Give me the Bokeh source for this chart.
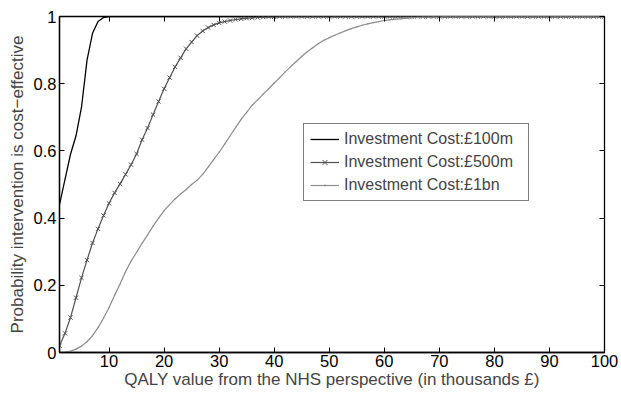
from bokeh.plotting import figure
from bokeh.models import Range1d, FixedTicker, LinearAxis, Legend, LegendItem, ColumnDataSource
from bokeh.embed import file_html
from bokeh.resources import INLINE

# QALY value (thousands £)
qaly = list(range(1, 101))

# Probability cost-effective, investment cost £100m
p100m = [0.44, 0.515, 0.59, 0.645, 0.73, 0.87, 0.95, 0.985, 0.997, 1.0,
         1.0, 1.0, 1.0, 1.0, 1.0, 1.0, 1.0, 1.0, 1.0, 1.0,
         1.0, 1.0, 1.0, 1.0, 1.0, 1.0, 1.0, 1.0, 1.0, 1.0,
         1.0, 1.0, 1.0, 1.0, 1.0, 1.0, 1.0, 1.0, 1.0, 1.0,
         1.0, 1.0, 1.0, 1.0, 1.0, 1.0, 1.0, 1.0, 1.0, 1.0,
         1.0, 1.0, 1.0, 1.0, 1.0, 1.0, 1.0, 1.0, 1.0, 1.0,
         1.0, 1.0, 1.0, 1.0, 1.0, 1.0, 1.0, 1.0, 1.0, 1.0,
         1.0, 1.0, 1.0, 1.0, 1.0, 1.0, 1.0, 1.0, 1.0, 1.0,
         1.0, 1.0, 1.0, 1.0, 1.0, 1.0, 1.0, 1.0, 1.0, 1.0,
         1.0, 1.0, 1.0, 1.0, 1.0, 1.0, 1.0, 1.0, 1.0, 1.0]

# Investment cost £500m
p500m = [0.02, 0.057, 0.104, 0.163, 0.222, 0.275, 0.326, 0.368, 0.408, 0.444,
         0.475, 0.502, 0.53, 0.559, 0.591, 0.633, 0.668, 0.708, 0.747, 0.785,
         0.818, 0.85, 0.877, 0.904, 0.924, 0.943, 0.957, 0.967, 0.975, 0.981,
         0.985, 0.988, 0.991, 0.993, 0.995, 0.996, 0.997, 0.998, 0.999, 0.999,
         1.0, 1.0, 1.0, 1.0, 1.0, 1.0, 1.0, 1.0, 1.0, 1.0,
         1.0, 1.0, 1.0, 1.0, 1.0, 1.0, 1.0, 1.0, 1.0, 1.0,
         1.0, 1.0, 1.0, 1.0, 1.0, 1.0, 1.0, 1.0, 1.0, 1.0,
         1.0, 1.0, 1.0, 1.0, 1.0, 1.0, 1.0, 1.0, 1.0, 1.0,
         1.0, 1.0, 1.0, 1.0, 1.0, 1.0, 1.0, 1.0, 1.0, 1.0,
         1.0, 1.0, 1.0, 1.0, 1.0, 1.0, 1.0, 1.0, 1.0, 1.0]

# Investment cost £1bn
p1bn = [0.0, 0.001, 0.004, 0.01, 0.019, 0.032, 0.05, 0.074, 0.102, 0.134,
        0.17, 0.204, 0.241, 0.272, 0.298, 0.325, 0.35, 0.376, 0.4, 0.422,
        0.44, 0.457, 0.472, 0.485, 0.5, 0.513, 0.53, 0.552, 0.574, 0.596,
        0.62, 0.645, 0.67, 0.694, 0.715, 0.736, 0.752, 0.769, 0.785, 0.802,
        0.818, 0.835, 0.851, 0.866, 0.881, 0.895, 0.907, 0.919, 0.929, 0.937,
        0.944, 0.951, 0.958, 0.964, 0.969, 0.974, 0.978, 0.982, 0.985, 0.988,
        0.99, 0.992, 0.993, 0.995, 0.996, 0.997, 0.998, 0.998, 0.999, 0.999,
        1.0, 1.0, 1.0, 1.0, 1.0, 1.0, 1.0, 1.0, 1.0, 1.0,
        1.0, 1.0, 1.0, 1.0, 1.0, 1.0, 1.0, 1.0, 1.0, 1.0,
        1.0, 1.0, 1.0, 1.0, 1.0, 1.0, 1.0, 1.0, 1.0, 1.0]

x_ticks = [10, 20, 30, 40, 50, 60, 70, 80, 90, 100]
y_ticks = [0, 0.2, 0.4, 0.6, 0.8, 1]
labels = ["Investment Cost:£100m", "Investment Cost:£500m", "Investment Cost:£1bn"]
colors = ["#000000", "#505050", "#8c8c8c"]

FONT = "Liberation Sans"

src = ColumnDataSource(dict(x=qaly, a=p100m, b=p500m, c=p1bn))

p = figure(width=621, height=393, output_backend="svg", toolbar_location=None,
           x_range=Range1d(1, 100), y_range=Range1d(0, 1),
           min_border_left=59, min_border_right=17, min_border_top=16, min_border_bottom=41)
p.grid.visible = False
p.outline_line_color = "black"
p.outline_line_width = 1.3

r1 = p.line("x", "a", source=src, color=colors[0], line_width=1.3)
r2 = p.line("x", "b", source=src, color=colors[1], line_width=1.2)
r2m = p.scatter("x", "b", source=src, marker="x", size=6, line_color=colors[1], line_width=1)
r3 = p.line("x", "c", source=src, color=colors[2], line_width=1.2)
r3m = p.scatter("x", "c", source=src, marker="dot", size=5, line_color=colors[2], fill_color=colors[2])


def style_axis(ax, show_labels=True):
    ax.major_tick_in = 5
    ax.major_tick_out = 0
    ax.minor_tick_line_color = None
    ax.major_tick_line_color = "black"
    ax.major_tick_line_width = 1
    ax.axis_line_color = "black"
    ax.axis_line_width = 1.3
    ax.major_label_text_font = FONT
    if show_labels:
        ax.major_label_text_color = "black"
        ax.major_label_text_font_size = "16.5px"
    else:
        ax.major_label_text_color = None
        ax.major_label_text_font_size = "1px"
        ax.major_label_standoff = 0


xa = p.xaxis[0]
xa.ticker = FixedTicker(ticks=x_ticks)
style_axis(xa)
xa.major_label_standoff = 2
xa.axis_label = "QALY value from the NHS perspective (in thousands £)"
xa.axis_label_text_font = FONT
xa.axis_label_text_font_size = "17px"
xa.axis_label_text_font_style = "normal"
xa.axis_label_standoff = 0

ya = p.yaxis[0]
ya.ticker = FixedTicker(ticks=y_ticks)
style_axis(ya)
ya.major_label_standoff = 3
ya.major_label_overrides = {0: "0", 1: "1"}
ya.axis_label = "Probability intervention is cost\u2212effective"
ya.axis_label_text_font = FONT
ya.axis_label_text_font_size = "17px"
ya.axis_label_text_font_style = "normal"
ya.axis_label_standoff = 4

top = LinearAxis(ticker=FixedTicker(ticks=x_ticks))
style_axis(top, show_labels=False)
top.axis_line_color = None
p.add_layout(top, "above")

right = LinearAxis(ticker=FixedTicker(ticks=y_ticks))
style_axis(right, show_labels=False)
right.axis_line_color = None
p.add_layout(right, "right")

legend = Legend(items=[
    LegendItem(label=labels[0], renderers=[r1]),
    LegendItem(label=labels[1], renderers=[r2, r2m]),
    LegendItem(label=labels[2], renderers=[r3, r3m]),
], location=(244, 151))
legend.label_text_font = FONT
legend.label_text_font_size = "16px"
legend.glyph_width = 29
legend.glyph_height = 18
legend.label_height = 18
legend.label_standoff = 5
legend.label_width = 178
legend.spacing = 5
legend.padding = 6
legend.margin = 0
legend.border_line_color = "black"
legend.border_line_width = 1.3
legend.background_fill_color = "white"
legend.background_fill_alpha = 1
p.add_layout(legend, "center")

open("out.html", "w").write(file_html(p, INLINE))
